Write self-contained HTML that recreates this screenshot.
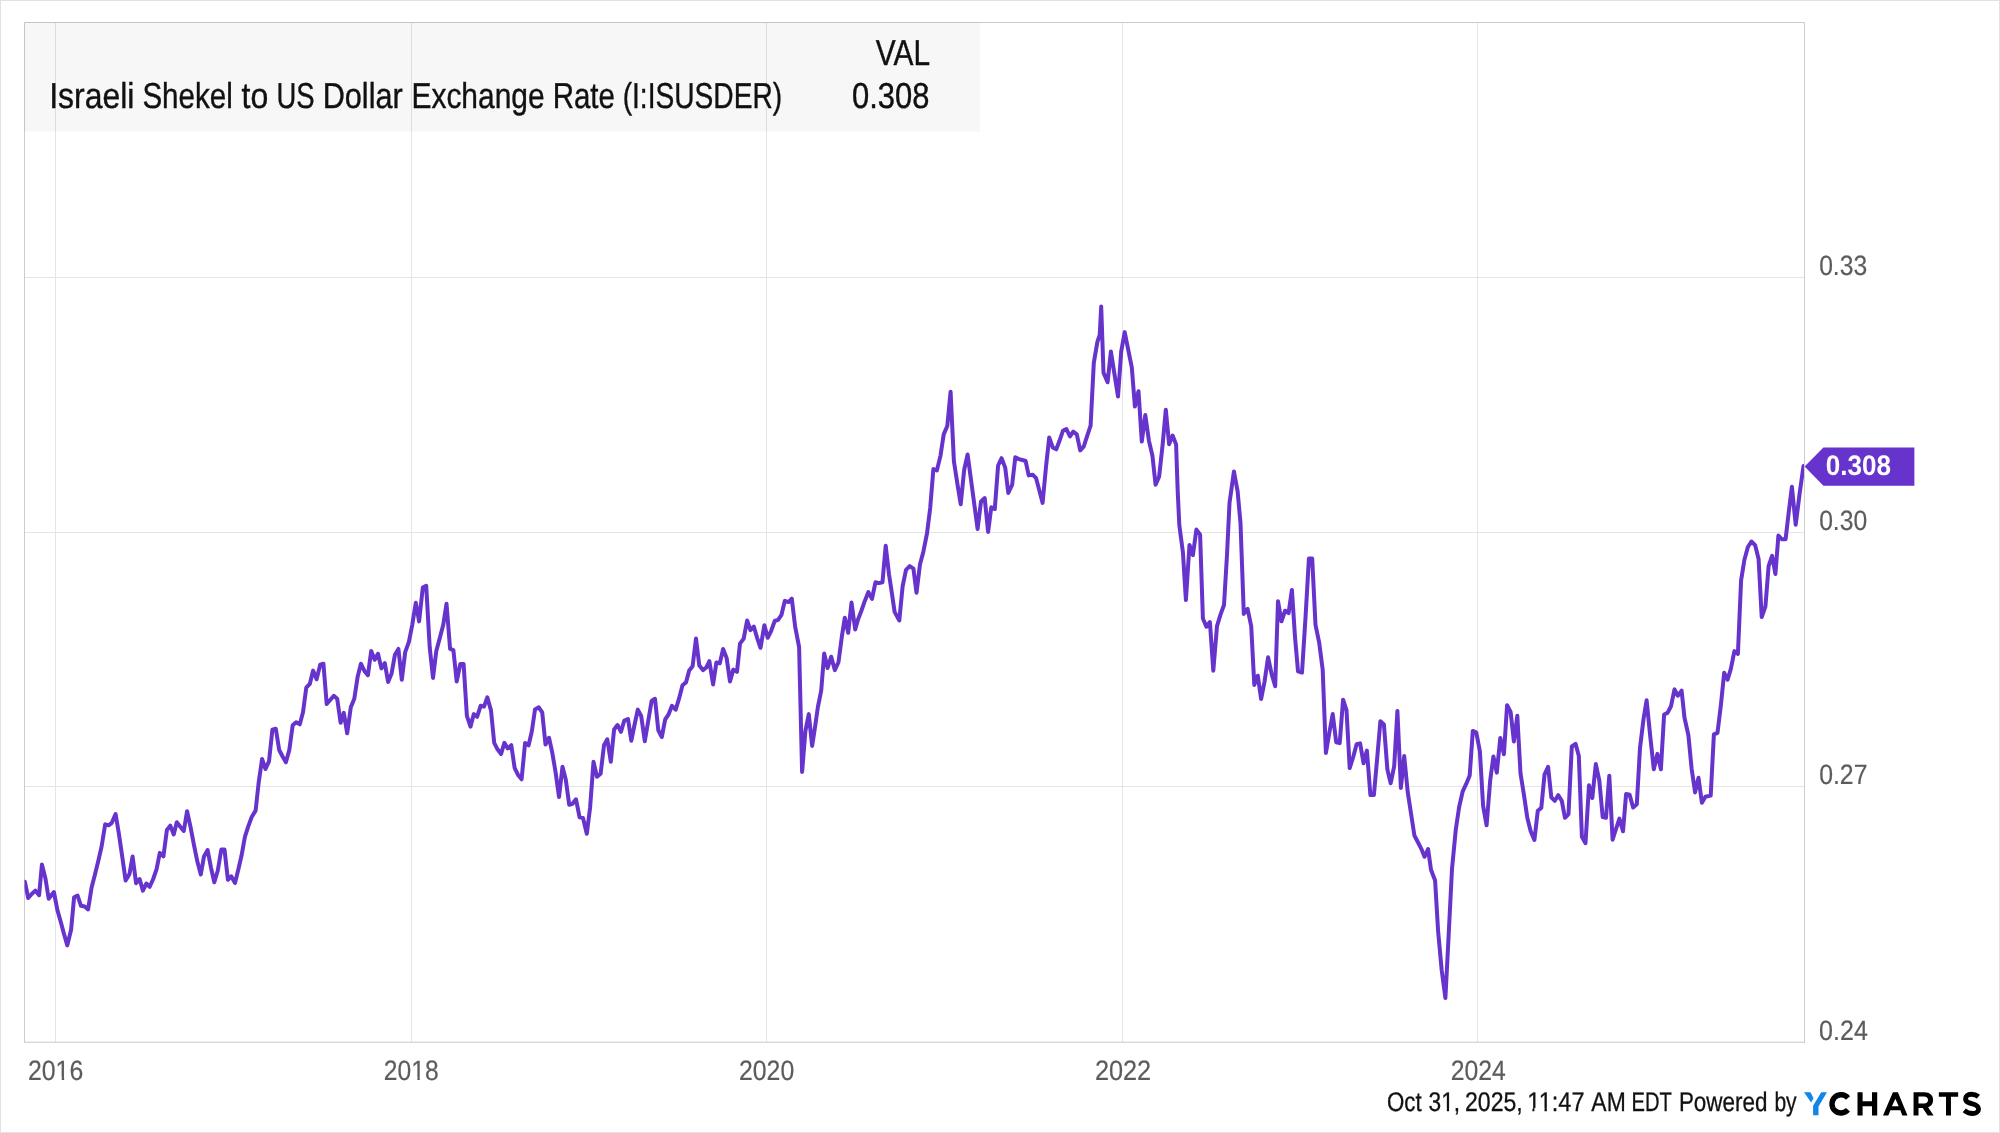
<!DOCTYPE html>
<html><head><meta charset="utf-8"><title>Israeli Shekel to US Dollar Exchange Rate</title>
<style>html,body{margin:0;padding:0;background:#fff;}body{width:2000px;height:1133px;overflow:hidden;position:relative;}#frame{position:absolute;left:0;top:0;width:2000px;height:1133px;box-sizing:border-box;border:1px solid #e2e2e2;}svg{position:absolute;left:0;top:0;will-change:transform;}text{font-family:"Liberation Sans",sans-serif;text-rendering:geometricPrecision;}</style></head><body>
<div id="frame"></div>
<svg width="2000" height="1133" viewBox="0 0 2000 1133">
<defs><clipPath id="plot"><rect x="24.5" y="22.5" width="1779.5" height="1019.75"/></clipPath></defs>
<line x1="55.5" y1="22.5" x2="55.5" y2="1042.25" stroke="#e5e5e5" stroke-width="1"/>
<line x1="411.5" y1="22.5" x2="411.5" y2="1042.25" stroke="#e5e5e5" stroke-width="1"/>
<line x1="766.5" y1="22.5" x2="766.5" y2="1042.25" stroke="#e5e5e5" stroke-width="1"/>
<line x1="1122.5" y1="22.5" x2="1122.5" y2="1042.25" stroke="#e5e5e5" stroke-width="1"/>
<line x1="1477.5" y1="22.5" x2="1477.5" y2="1042.25" stroke="#e5e5e5" stroke-width="1"/>
<line x1="24.5" y1="277.5" x2="1804.5" y2="277.5" stroke="#e5e5e5" stroke-width="1"/>
<line x1="24.5" y1="532.5" x2="1804.5" y2="532.5" stroke="#e5e5e5" stroke-width="1"/>
<line x1="24.5" y1="786.5" x2="1804.5" y2="786.5" stroke="#e5e5e5" stroke-width="1"/>
<path d="M24.5,1042.25 L24.5,22.5 L1804.5,22.5 L1804.5,1042.5" fill="none" stroke="#cccccc" stroke-width="1"/>
<line x1="24.0" y1="1042.25" x2="1805.0" y2="1042.25" stroke="#c8c8c8" stroke-width="1.2"/>
<rect x="24" y="22" width="956" height="109.6" fill="#000" fill-opacity="0.031"/>
<path clip-path="url(#plot)" d="M24.9,881.8 L28.2,898.0 L31.7,894.0 L35.3,890.6 L39.1,895.2 L41.9,864.6 L45.4,878.3 L48.7,898.8 L53.9,892.0 L57.4,910.1 L60.8,922.0 L64.0,934.0 L67.3,945.4 L71.1,929.8 L74.1,897.3 L77.6,895.6 L81.0,905.8 L84.7,906.5 L88.1,909.4 L91.6,887.5 L94.9,874.7 L98.4,860.6 L101.6,846.5 L105.2,824.3 L108.6,825.3 L111.8,822.8 L115.6,814.0 L118.9,833.8 L122.4,857.8 L125.6,880.4 L129.5,874.0 L132.6,856.4 L136.1,883.2 L139.6,879.0 L142.9,890.6 L146.4,883.5 L149.7,886.8 L153.2,879.0 L156.6,869.1 L159.8,852.9 L163.4,856.4 L166.9,830.0 L170.3,825.6 L173.7,834.5 L176.8,822.2 L180.3,826.7 L183.8,831.0 L187.1,811.2 L190.6,827.4 L194.0,845.1 L197.3,861.3 L200.8,874.5 L204.0,856.4 L207.6,850.0 L211.0,867.7 L214.3,882.2 L217.8,870.5 L221.3,849.5 L224.5,849.5 L227.9,879.8 L231.2,876.3 L235.0,882.9 L238.2,870.0 L241.5,855.8 L244.9,836.8 L248.1,826.9 L251.7,817.0 L255.6,810.6 L258.7,782.4 L262.1,758.9 L265.5,769.0 L269.0,761.4 L272.4,729.6 L275.8,728.7 L279.2,750.0 L282.6,756.5 L285.9,762.3 L289.3,750.0 L292.7,725.2 L296.1,722.2 L299.8,724.3 L303.0,712.3 L306.3,687.6 L309.8,683.9 L313.1,670.6 L316.6,679.3 L320.2,664.7 L323.4,663.7 L326.7,704.0 L330.2,700.0 L333.8,695.8 L337.2,698.7 L340.6,722.8 L343.8,712.9 L347.2,733.3 L350.8,707.3 L354.3,698.7 L357.6,677.1 L360.9,663.7 L364.4,670.9 L367.9,675.2 L371.2,650.9 L374.7,659.8 L378.0,653.8 L381.4,668.4 L384.8,663.2 L388.1,682.0 L391.6,673.4 L394.9,654.8 L398.4,648.9 L401.8,679.8 L405.2,652.2 L408.9,641.8 L412.2,625.1 L415.8,602.8 L419.1,621.4 L422.8,587.6 L426.2,585.8 L429.7,647.3 L433.0,677.9 L436.3,651.0 L439.8,638.0 L443.2,625.1 L446.5,603.7 L450.1,648.8 L453.4,650.1 L456.7,681.6 L460.3,664.0 L463.6,664.0 L466.9,715.9 L470.5,726.7 L473.8,714.1 L477.1,716.8 L480.7,705.7 L484.0,706.6 L487.3,697.4 L491.0,710.4 L494.2,742.8 L497.5,749.3 L501.1,753.9 L504.4,742.8 L507.7,748.4 L511.3,745.2 L514.6,767.8 L518.3,775.3 L521.6,779.3 L525.1,742.9 L528.6,745.3 L531.8,731.5 L535.0,709.5 L538.8,707.3 L542.2,712.3 L545.5,744.5 L549.0,737.8 L552.3,752.8 L555.7,773.0 L559.0,797.0 L562.5,766.7 L565.8,779.8 L569.2,804.8 L572.5,803.8 L576.0,799.3 L579.6,817.3 L583.0,818.0 L586.8,833.8 L590.1,807.5 L593.5,761.8 L597.0,776.8 L600.6,773.8 L604.0,745.3 L607.3,739.3 L610.8,761.8 L614.1,729.5 L617.5,725.0 L621.0,731.8 L624.3,720.5 L628.0,719.0 L631.3,740.8 L634.5,725.0 L637.8,709.6 L641.2,716.0 L644.8,741.2 L648.3,720.5 L651.6,701.0 L655.0,698.8 L658.3,730.3 L661.8,737.0 L665.2,719.3 L668.5,714.5 L672.0,705.8 L675.7,709.7 L679.1,698.4 L682.5,685.2 L686.0,682.4 L689.2,670.5 L692.6,666.3 L696.0,638.6 L699.3,665.4 L703.0,670.1 L706.3,667.5 L709.4,661.2 L713.1,684.4 L716.4,662.4 L719.8,663.4 L723.1,649.0 L726.6,657.9 L730.0,681.4 L733.3,669.6 L737.0,671.8 L740.0,643.6 L743.7,638.6 L747.1,620.5 L750.4,630.2 L753.8,626.5 L757.1,637.8 L760.5,647.8 L764.4,625.2 L767.7,637.8 L771.1,631.1 L774.7,621.0 L778.1,619.8 L781.5,614.8 L784.8,600.9 L788.5,602.1 L791.8,598.7 L795.2,626.9 L799.1,647.0 L802.1,771.9 L805.4,731.0 L808.8,714.1 L812.1,745.9 L814.6,730.0 L817.9,707.0 L821.2,690.6 L824.2,653.4 L827.6,668.0 L831.2,656.7 L834.8,670.1 L838.5,662.1 L841.8,636.9 L844.8,617.7 L848.2,632.7 L851.5,602.6 L855.2,629.4 L858.2,619.0 L861.3,611.0 L864.9,600.7 L868.4,592.1 L872.0,598.9 L875.5,582.2 L878.8,583.1 L882.5,582.2 L885.7,545.7 L889.0,574.2 L892.0,594.0 L894.6,611.9 L899.3,620.5 L902.6,586.5 L906.0,569.8 L909.7,566.1 L913.4,568.6 L916.5,592.7 L920.0,564.3 L923.3,551.9 L927.0,533.5 L930.2,507.9 L933.4,469.0 L936.9,470.4 L940.5,455.6 L943.7,434.4 L947.3,426.0 L950.6,391.8 L953.9,461.3 L957.4,483.9 L960.7,504.3 L964.2,469.7 L967.6,454.5 L970.8,478.2 L974.4,505.0 L977.6,529.0 L981.0,501.5 L984.7,498.0 L988.1,531.9 L991.3,507.2 L994.8,509.0 L998.1,465.5 L1001.6,458.2 L1005.2,467.6 L1008.3,493.0 L1012.1,485.0 L1015.3,457.3 L1018.9,459.1 L1022.3,460.0 L1025.6,461.0 L1028.7,475.4 L1032.6,474.7 L1036.1,478.2 L1039.3,490.2 L1042.6,502.9 L1046.0,466.9 L1049.2,437.5 L1052.7,447.4 L1056.3,449.3 L1059.5,440.8 L1062.9,430.9 L1066.4,429.1 L1070.0,436.5 L1073.2,431.7 L1076.8,434.4 L1080.2,450.4 L1083.8,446.4 L1087.1,436.2 L1090.6,425.6 L1093.8,362.9 L1097.4,341.8 L1099.7,335.0 L1101.2,306.5 L1103.5,372.6 L1107.6,382.3 L1110.9,351.5 L1114.5,374.4 L1118.0,396.5 L1121.2,351.5 L1124.7,332.1 L1128.2,349.7 L1131.8,367.3 L1134.9,406.5 L1138.5,391.2 L1141.8,441.5 L1145.3,415.0 L1148.9,440.6 L1152.4,455.6 L1155.6,484.7 L1159.1,476.8 L1162.6,445.0 L1165.8,409.7 L1169.1,444.2 L1172.6,435.5 L1176.1,444.5 L1177.6,488.6 L1179.3,525.0 L1182.9,552.2 L1185.9,600.1 L1189.5,544.9 L1192.9,555.2 L1196.4,529.6 L1200.1,534.7 L1202.9,618.5 L1206.4,626.7 L1209.9,622.0 L1213.3,670.7 L1217.0,626.2 L1220.4,614.9 L1224.0,605.0 L1227.0,555.0 L1229.5,503.1 L1233.9,471.4 L1237.6,491.2 L1240.5,523.0 L1243.8,613.9 L1247.6,608.9 L1251.2,626.2 L1254.3,684.9 L1257.8,675.7 L1261.1,699.0 L1264.6,681.3 L1268.1,657.3 L1271.7,674.3 L1275.2,686.3 L1278.0,601.2 L1281.5,621.3 L1285.1,610.7 L1288.6,613.1 L1291.9,589.9 L1295.0,636.8 L1298.0,671.3 L1302.0,672.6 L1305.6,616.2 L1308.9,558.6 L1312.2,558.6 L1315.5,624.8 L1319.2,642.7 L1322.7,669.8 L1325.9,753.0 L1329.3,733.0 L1332.7,714.0 L1336.2,742.3 L1339.7,743.1 L1343.1,699.7 L1346.5,710.1 L1349.7,768.1 L1353.2,757.0 L1356.6,744.2 L1360.1,743.4 L1363.6,763.3 L1366.9,750.6 L1370.4,795.1 L1373.9,795.1 L1377.2,758.0 L1380.4,721.2 L1383.9,724.4 L1387.4,769.6 L1390.7,783.2 L1394.2,766.1 L1397.4,710.9 L1400.9,787.9 L1404.2,756.1 L1407.7,791.9 L1411.1,814.0 L1414.4,835.5 L1417.8,842.0 L1421.2,848.6 L1424.5,856.8 L1428.1,849.1 L1431.0,869.8 L1435.1,880.5 L1438.1,931.1 L1441.7,970.3 L1445.4,998.1 L1448.7,934.4 L1452.0,869.0 L1455.8,829.5 L1459.1,807.2 L1462.6,791.7 L1466.2,783.9 L1469.7,775.4 L1472.8,730.9 L1476.3,732.6 L1479.9,751.4 L1483.1,805.8 L1486.6,825.3 L1490.2,780.4 L1493.4,756.4 L1496.8,772.6 L1500.3,738.0 L1503.9,754.2 L1507.1,705.2 L1510.6,711.9 L1513.9,741.5 L1517.3,715.7 L1520.5,773.3 L1524.1,795.9 L1527.3,817.8 L1530.7,831.2 L1534.4,839.9 L1537.8,810.7 L1541.3,807.9 L1544.5,774.7 L1548.1,766.9 L1551.3,797.3 L1554.8,800.8 L1558.2,795.2 L1561.8,800.8 L1565.0,817.8 L1568.5,814.2 L1571.8,746.5 L1575.6,743.9 L1578.8,755.7 L1581.9,836.8 L1585.5,843.2 L1589.0,785.3 L1592.3,798.0 L1595.8,764.1 L1599.3,780.4 L1602.7,817.1 L1606.0,817.8 L1609.3,775.7 L1612.6,839.7 L1616.0,829.0 L1619.4,818.6 L1623.0,831.3 L1626.1,794.0 L1629.6,794.8 L1633.1,807.5 L1636.8,804.3 L1640.0,747.9 L1643.5,719.3 L1646.6,700.2 L1650.3,736.8 L1653.8,769.3 L1657.4,753.9 L1660.9,769.3 L1664.1,714.5 L1667.5,712.9 L1671.0,706.2 L1674.5,689.4 L1677.8,695.7 L1681.6,690.7 L1684.5,717.7 L1688.4,735.2 L1691.6,768.5 L1695.1,792.4 L1698.5,777.8 L1701.9,802.7 L1705.4,796.7 L1710.7,795.6 L1713.9,734.4 L1717.5,732.8 L1721.0,704.0 L1724.2,672.8 L1727.6,679.7 L1730.9,668.6 L1734.4,651.1 L1737.9,653.8 L1741.1,580.4 L1744.4,559.7 L1747.9,547.0 L1751.4,541.5 L1755.1,545.1 L1758.6,558.9 L1761.7,617.0 L1765.4,606.6 L1768.6,566.1 L1772.1,555.8 L1775.4,574.0 L1778.4,535.6 L1782.0,539.3 L1785.6,539.3 L1788.7,512.5 L1791.9,486.7 L1795.7,524.8 L1799.7,493.0 L1803.5,466.0" fill="none" stroke="#6633cc" stroke-width="4" stroke-linejoin="round" stroke-linecap="round"/>
<path d="M1804.6,466.4 L1823.4,447.4 L1914.4,447.4 L1914.4,485.8 L1823.4,485.8 Z" fill="#6633cc"/>
<text class="w" x="49.24" y="107.9" font-size="36.0" font-weight="normal" fill="#111111" stroke="#111111" stroke-width="0.4" textLength="85.22" lengthAdjust="spacingAndGlyphs">Israeli</text>
<text class="w" x="142.38" y="107.9" font-size="36.0" font-weight="normal" fill="#111111" stroke="#111111" stroke-width="0.4" textLength="90.42" lengthAdjust="spacingAndGlyphs">Shekel</text>
<text class="w" x="241.51" y="107.9" font-size="36.0" font-weight="normal" fill="#111111" stroke="#111111" stroke-width="0.4" textLength="26.75" lengthAdjust="spacingAndGlyphs">to</text>
<text class="w" x="276.58" y="107.9" font-size="36.0" font-weight="normal" fill="#111111" stroke="#111111" stroke-width="0.4" textLength="38.08" lengthAdjust="spacingAndGlyphs">US</text>
<text class="w" x="322.68" y="107.9" font-size="36.0" font-weight="normal" fill="#111111" stroke="#111111" stroke-width="0.4" textLength="80.10" lengthAdjust="spacingAndGlyphs">Dollar</text>
<text class="w" x="411.44" y="107.9" font-size="36.0" font-weight="normal" fill="#111111" stroke="#111111" stroke-width="0.4" textLength="133.17" lengthAdjust="spacingAndGlyphs">Exchange</text>
<text class="w" x="552.68" y="107.9" font-size="36.0" font-weight="normal" fill="#111111" stroke="#111111" stroke-width="0.4" textLength="62.28" lengthAdjust="spacingAndGlyphs">Rate</text>
<text class="w" x="622.65" y="107.9" font-size="36.0" font-weight="normal" fill="#111111" stroke="#111111" stroke-width="0.4" textLength="159.48" lengthAdjust="spacingAndGlyphs">(I:ISUSDER)</text>
<text class="w" x="875.79" y="65.2" font-size="36.0" font-weight="normal" fill="#111111" stroke="#111111" stroke-width="0.4" textLength="54.19" lengthAdjust="spacingAndGlyphs">VAL</text>
<text class="w" x="852.09" y="107.9" font-size="36.0" font-weight="normal" fill="#111111" stroke="#111111" stroke-width="0.4" textLength="77.32" lengthAdjust="spacingAndGlyphs">0.308</text>
<text class="w" x="27.95" y="1079.8" font-size="28.0" font-weight="normal" fill="#5c5c5c" stroke="#5c5c5c" stroke-width="0.2" textLength="55.28" lengthAdjust="spacingAndGlyphs">2016</text>
<text class="w" x="383.86" y="1079.8" font-size="28.0" font-weight="normal" fill="#5c5c5c" stroke="#5c5c5c" stroke-width="0.2" textLength="54.84" lengthAdjust="spacingAndGlyphs">2018</text>
<text class="w" x="738.95" y="1079.8" font-size="28.0" font-weight="normal" fill="#5c5c5c" stroke="#5c5c5c" stroke-width="0.2" textLength="55.26" lengthAdjust="spacingAndGlyphs">2020</text>
<text class="w" x="1094.93" y="1079.8" font-size="28.0" font-weight="normal" fill="#5c5c5c" stroke="#5c5c5c" stroke-width="0.2" textLength="56.27" lengthAdjust="spacingAndGlyphs">2022</text>
<text class="w" x="1450.65" y="1079.8" font-size="28.0" font-weight="normal" fill="#5c5c5c" stroke="#5c5c5c" stroke-width="0.2" textLength="55.10" lengthAdjust="spacingAndGlyphs">2024</text>
<text class="w" x="1819.13" y="275.45" font-size="28.0" font-weight="normal" fill="#5c5c5c" stroke="#5c5c5c" stroke-width="0.2" textLength="48.07" lengthAdjust="spacingAndGlyphs">0.33</text>
<text class="w" x="1819.13" y="530.45" font-size="28.0" font-weight="normal" fill="#5c5c5c" stroke="#5c5c5c" stroke-width="0.2" textLength="48.05" lengthAdjust="spacingAndGlyphs">0.30</text>
<text class="w" x="1819.13" y="784.0" font-size="28.0" font-weight="normal" fill="#5c5c5c" stroke="#5c5c5c" stroke-width="0.2" textLength="48.33" lengthAdjust="spacingAndGlyphs">0.27</text>
<text class="w" x="1819.12" y="1039.6" font-size="28.0" font-weight="normal" fill="#5c5c5c" stroke="#5c5c5c" stroke-width="0.2" textLength="48.72" lengthAdjust="spacingAndGlyphs">0.24</text>
<text class="w" x="1825.77" y="474.9" font-size="28.2" font-weight="bold" fill="#ffffff" textLength="65.21" lengthAdjust="spacingAndGlyphs">0.308</text>
<text class="w" x="1386.99" y="1110.7" font-size="27.0" font-weight="normal" fill="#111111" stroke="#111111" stroke-width="0.3" textLength="34.64" lengthAdjust="spacingAndGlyphs">Oct</text>
<text class="w" x="1428.56" y="1110.7" font-size="27.0" font-weight="normal" fill="#111111" stroke="#111111" stroke-width="0.3" textLength="31.63" lengthAdjust="spacingAndGlyphs">31,</text>
<text class="w" x="1464.99" y="1110.7" font-size="27.0" font-weight="normal" fill="#111111" stroke="#111111" stroke-width="0.3" textLength="57.73" lengthAdjust="spacingAndGlyphs">2025,</text>
<text class="w" x="1527.35" y="1110.7" font-size="27.0" font-weight="normal" fill="#111111" stroke="#111111" stroke-width="0.3" textLength="57.17" lengthAdjust="spacingAndGlyphs">11:47</text>
<text class="w" x="1591.35" y="1110.7" font-size="27.0" font-weight="normal" fill="#111111" stroke="#111111" stroke-width="0.3" textLength="34.37" lengthAdjust="spacingAndGlyphs">AM</text>
<text class="w" x="1631.59" y="1110.7" font-size="27.0" font-weight="normal" fill="#111111" stroke="#111111" stroke-width="0.3" textLength="40.31" lengthAdjust="spacingAndGlyphs">EDT</text>
<text class="w" x="1678.91" y="1110.7" font-size="27.0" font-weight="normal" fill="#111111" stroke="#111111" stroke-width="0.3" textLength="88.52" lengthAdjust="spacingAndGlyphs">Powered</text>
<text class="w" x="1774.38" y="1110.7" font-size="27.0" font-weight="normal" fill="#111111" stroke="#111111" stroke-width="0.3" textLength="22.27" lengthAdjust="spacingAndGlyphs">by</text>
<rect x="55.33" y="1077.00" width="6.42" height="4.00" fill="#fff"/>
<rect x="64.13" y="1077.00" width="6.02" height="4.00" fill="#fff"/>
<rect x="411.03" y="1077.00" width="6.37" height="4.00" fill="#fff"/>
<rect x="419.76" y="1077.00" width="5.97" height="4.00" fill="#fff"/>
<rect x="1440.98" y="1108.00" width="5.83" height="4.00" fill="#fff"/>
<rect x="1449.10" y="1108.00" width="5.46" height="4.00" fill="#fff"/>
<rect x="1527.15" y="1108.00" width="5.21" height="4.00" fill="#fff"/>
<rect x="1534.44" y="1108.00" width="4.87" height="4.00" fill="#fff"/>
<rect x="1538.45" y="1108.00" width="6.04" height="4.00" fill="#fff"/>
<rect x="1546.85" y="1108.00" width="5.65" height="4.00" fill="#fff"/>
<path d="M1804,1092.25 L1810.5,1092.25 L1813.5,1098.25 L1811.1,1102.5 Z" fill="#1086e8"/>
<path d="M1821.25,1092.25 L1827,1092.25 L1818.5,1106.5 L1818.5,1115.3 L1813.1,1115.3 L1813.1,1105.75 Z" fill="#1086e8"/>
<g transform="translate(1800,1085) scale(0.05)" fill="none" stroke="#000" stroke-width="108">
<path d="M959,258 A182,182 0 1 0 959,497"/>
</g>
<path d="M1857.5,1092.2 h5.1 v9 h9.4 v-9 h5.2 v23.3 h-5.2 v-9.3 h-9.4 v9.3 h-5.1 Z" fill="#000"/>
<path fill-rule="evenodd" d="M1892.9,1092.15 L1897.9,1092.15 L1907.5,1115.5 L1902.3,1115.5 L1900.35,1110.3 L1890.45,1110.3 L1888.25,1115.5 L1883.0,1115.5 Z M1895.4,1098.75 L1891.9,1106.2 L1898.7,1106.2 Z" fill="#000"/>
<path fill-rule="evenodd" d="M1913.55,1092.15 L1924.5,1092.15 C1930,1092.15 1933.1,1095.3 1933.1,1099.9 C1933.1,1103.8 1931,1106.2 1928.1,1107.2 L1933.6,1115.5 L1927.7,1115.5 L1922.7,1107.9 L1918.5,1107.9 L1918.5,1115.5 L1913.55,1115.5 Z M1918.5,1096.6 L1918.5,1103.5 L1924.0,1103.5 C1926.6,1103.5 1928.0,1102.1 1928.0,1100.05 C1928.0,1097.8 1926.5,1096.6 1923.9,1096.6 Z" fill="#000"/>
<path d="M1938.85,1092.15 h19.3 v4.7 h-7.2 v18.65 h-4.95 v-18.65 h-7.15 Z" fill="#000"/>
<g transform="translate(1880,1085) scale(0.055)" fill="none" stroke="#000" stroke-width="88">
<path d="M1790,212 C1750,180 1705,168 1660,168 C1592,168 1556,205 1556,250 C1556,310 1612,325 1680,343 C1750,362 1792,385 1792,435 C1792,490 1745,518 1685,518 C1620,518 1572,496 1532,462"/>
</g>
</svg></body></html>
